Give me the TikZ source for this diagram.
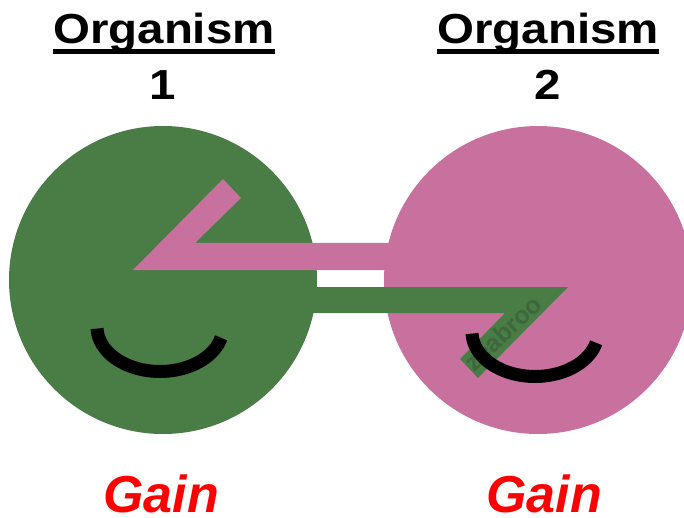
\documentclass[tikz,border=0pt]{standalone}
\usepackage{fontspec}
\setmainfont{Liberation Sans}
\definecolor{orgGreen}{RGB}{74,124,69}
\definecolor{orgPink}{RGB}{201,113,158}
\definecolor{markGreen}{RGB}{60,104,60}
\tikzset{
  x=1pt,y=-1pt,
  cell/.style={circle,inner sep=0pt,minimum size=308pt},
  title/.style={inner sep=0pt,anchor=base,font=\bfseries\fontsize{42}{42}\selectfont,xscale=1.13},
  gain/.style={inner sep=0pt,anchor=base,text=red,font=\bfseries\itshape\fontsize{52}{52}\selectfont},
  smile/.style={line width=13pt,black},
  stamp/.style={inner sep=0pt,rotate=43,text=markGreen,font=\bfseries\fontsize{25}{25}\selectfont}
}
\begin{document}
\begin{tikzpicture}
\useasboundingbox (0,0) rectangle (684,518);
\begin{scope}
\clip (0,0) rectangle (684,518);
\node[cell,fill=orgGreen] (c1) at (163,280) {};
\node[cell,fill=orgPink] (c2) at (538,280) {};
\fill[orgPink] (133,270) -- (223,179) -- (241,198) -- (195,243) -- (390,243) -- (390,270) -- cycle;
\fill[orgGreen] (310,287) -- (568,287) -- (478,378) -- (460,359) -- (505,313) -- (310,313) -- cycle;
\node[stamp] (w) at (503,333) {zeabroo};
\draw[smile] plot[domain=178:14,samples=40] ({160+63*cos(\x)},{327+44.5*sin(\x)});
\draw[smile] plot[domain=178:14,samples=40] ({535+63*cos(\x)},{332+44.5*sin(\x)});
\end{scope}
\node[title] (o1) at (164,44) {Organism};
\fill (53,49.5) rectangle (275,54);
\node[title] (n1) at (163,100) {1};
\node[title] (o2) at (548,44) {Organism};
\fill (437,49.5) rectangle (659,54);
\node[title] (n2) at (548,100) {2};
\node[gain] (g1) at (161,512.5) {Gain};
\node[gain] (g2) at (544,512.5) {Gain};
\end{tikzpicture}
\end{document}
